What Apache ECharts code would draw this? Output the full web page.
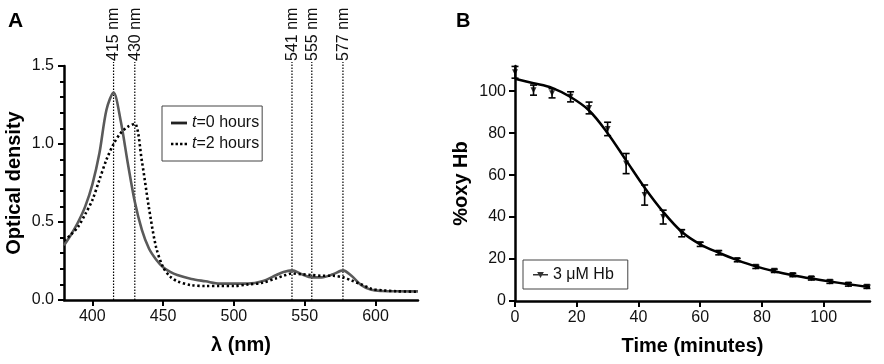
<!DOCTYPE html>
<html>
<head>
<meta charset="utf-8">
<script src="https://cdn.jsdelivr.net/npm/echarts@6/dist/echarts.min.js"></script>
<style>
  html, body { margin: 0; padding: 0; background: #fff; }
  #chart { width: 884px; height: 364px; }
</style>
</head>
<body>
<div id="chart"></div>
<script>
// panel A: absorbance spectra
var wavelength = [380, 385, 390, 395, 400, 405, 410, 415, 420, 425, 430, 435, 440, 445, 450, 455, 460, 470, 480, 490, 500, 510, 520, 530, 535, 541, 548, 555, 562, 570, 577, 583, 590, 597, 605, 615, 630];
var odHour0 = [0.35, 0.42, 0.50, 0.60, 0.74, 0.94, 1.22, 1.33, 1.15, 0.88, 0.63, 0.45, 0.33, 0.26, 0.21, 0.18, 0.16, 0.135, 0.12, 0.105, 0.105, 0.105, 0.12, 0.16, 0.18, 0.19, 0.165, 0.145, 0.145, 0.165, 0.19, 0.155, 0.095, 0.065, 0.058, 0.056, 0.055];
var odHour2 = [0.38, 0.42, 0.47, 0.55, 0.64, 0.77, 0.90, 1.00, 1.07, 1.11, 1.13, 0.89, 0.59, 0.34, 0.21, 0.15, 0.12, 0.095, 0.09, 0.09, 0.09, 0.10, 0.11, 0.14, 0.155, 0.17, 0.165, 0.16, 0.155, 0.155, 0.145, 0.125, 0.10, 0.072, 0.062, 0.056, 0.053];
var peakLines = [415, 430, 541, 555, 577];
var wlTicks = [400, 450, 500, 550, 600];

// panel B: %oxy Hb over time
var timeMin = [0, 6, 12, 18, 24, 30, 36, 42, 48, 54, 60, 66, 72, 78, 84, 90, 96, 102, 108, 114];
var oxyMean = [109, 100.5, 99, 97.3, 92, 82, 65.5, 50.5, 40, 32.3, 27, 23, 19.5, 16.3, 14.4, 12.4, 10.8, 9.2, 7.9, 6.8];
var oxyErr = [2.8, 2.4, 2.2, 2.4, 2.8, 3.2, 4.8, 4.8, 3.3, 1.7, 1, 1, 0.8, 0.8, 0.8, 0.8, 0.8, 0.8, 0.8, 0.8];
var fitTime = [0, 6, 12, 18, 24, 30, 36, 42, 48, 54, 60, 66, 72, 78, 84, 90, 96, 102, 108, 115];
var fitOxy = [105.9, 103.8, 101.6, 97.2, 90.8, 80, 67, 54, 42.5, 33, 27, 23, 19.5, 16.5, 14.2, 12.3, 10.7, 9.3, 8, 6.6];
var timeTicks = [0, 20, 40, 60, 80, 100];
var oxyTicks = [0, 20, 40, 60, 80, 100];

var FONT = '"Liberation Sans", Arial, sans-serif';

function pairs(xs, ys) {
  return xs.map(function (x, i) { return [x, ys[i]]; });
}

// shared axis look: thick black line, outward ticks
function axisStyle(extra) {
  var base = {
    axisLine: { show: true, onZero: false, lineStyle: { color: '#000', width: 2.5 } },
    axisTick: { show: true, inside: false, length: 6, lineStyle: { color: '#000', width: 2 } },
    axisLabel: { color: '#111', fontSize: 16, fontFamily: FONT, margin: 9 },
    splitLine: { show: false },
    nameLocation: 'middle',
    nameTextStyle: { color: '#000', fontSize: 20, fontWeight: 'bold', fontFamily: FONT }
  };
  for (var k in extra) {
    if (typeof extra[k] === 'object' && base[k] && !Array.isArray(extra[k])) {
      base[k] = Object.assign({}, base[k], extra[k]);
    } else {
      base[k] = extra[k];
    }
  }
  return base;
}

// legend icons (solid dash, row of dots, line with marker)
var ICON_SOLID = 'path://M0,5.6H16V8.4H0Z';
var ICON_DOTS = 'path://M0,5.8H2.4V8.2H0Z M4.5,5.8H6.9V8.2H4.5Z M9,5.8H11.4V8.2H9Z M13.5,5.8H15.9V8.2H13.5Z';
var ICON_MARK = 'path://M0,3.2H20V5.4H0Z M5.5,0.8H14.5L10,8.5Z';

var chart = echarts.init(document.getElementById('chart'), null, { renderer: 'canvas' });

var option = {
  backgroundColor: '#fff',
  animation: false,
  title: [
    { text: 'A', left: 3, top: 6, textStyle: { fontSize: 21, fontWeight: 'bold', fontFamily: FONT, color: '#000' } },
    { text: 'B', left: 451, top: 6, textStyle: { fontSize: 20, fontWeight: 'bold', fontFamily: FONT, color: '#000' } }
  ],
  grid: [
    { left: 64, top: 66, width: 354, height: 234, outerBoundsMode: 'none', containLabel: false },
    { left: 515, top: 66, width: 355, height: 235, outerBoundsMode: 'none', containLabel: false }
  ],
  legend: [
    {
      orient: 'vertical',
      left: 162, top: 106,
      padding: [9, 3, 9, 9],
      itemGap: 5,
      itemWidth: 16, itemHeight: 14,
      borderColor: '#444', borderWidth: 1,
      data: [
        { name: 't=0 hours', icon: ICON_SOLID, itemStyle: { color: '#222' } },
        { name: 't=2 hours', icon: ICON_DOTS, itemStyle: { color: '#000' } }
      ],
      formatter: function (n) { return '{i|t}{r|' + n.slice(1) + '}'; },
      textStyle: {
        rich: {
          i: { fontStyle: 'italic', fontSize: 16, fontFamily: FONT, color: '#111' },
          r: { fontSize: 16, fontFamily: FONT, color: '#111' }
        }
      }
    },
    {
      left: 523, top: 260,
      padding: [7, 14, 6, 10],
      itemWidth: 15, itemHeight: 9,
      borderColor: '#444', borderWidth: 1,
      data: [{ name: '3 μM Hb', icon: ICON_MARK, itemStyle: { color: '#000' } }],
      textStyle: { fontSize: 16, fontFamily: FONT, color: '#111' }
    }
  ],
  xAxis: [
    axisStyle({
      gridIndex: 0, type: 'value', min: 380, max: 630,
      name: 'λ (nm)', nameGap: 35,
      axisTick: { show: true, customValues: wlTicks, length: 6, lineStyle: { color: '#000', width: 2 } },
      axisLabel: { customValues: wlTicks, color: '#111', fontSize: 16, fontFamily: FONT, margin: 9 }
    }),
    axisStyle({
      gridIndex: 1, type: 'value', min: 0, max: 115,
      name: 'Time (minutes)', nameGap: 35,
      axisTick: { show: true, customValues: timeTicks, length: 6, lineStyle: { color: '#000', width: 2 } },
      axisLabel: { customValues: timeTicks, color: '#111', fontSize: 16, fontFamily: FONT, margin: 9 }
    })
  ],
  yAxis: [
    axisStyle({
      gridIndex: 0, type: 'value', min: 0, max: 1.5, interval: 0.5,
      name: 'Optical density', nameGap: 40,
      minorTick: { show: true, splitNumber: 5, length: 4, lineStyle: { color: '#000', width: 2 } },
      axisLabel: { color: '#111', fontSize: 16, fontFamily: FONT, margin: 10, formatter: function (v) { return v.toFixed(1); } }
    }),
    axisStyle({
      gridIndex: 1, type: 'value', min: 0, max: 112,
      name: '%oxy Hb', nameGap: 44,
      axisTick: { show: true, customValues: oxyTicks, length: 6, lineStyle: { color: '#000', width: 2 } },
      axisLabel: { customValues: oxyTicks, color: '#111', fontSize: 16, fontFamily: FONT, margin: 9 }
    })
  ],
  series: [
    {
      name: 't=0 hours', type: 'line', xAxisIndex: 0, yAxisIndex: 0,
      data: pairs(wavelength, odHour0), smooth: 0.3, symbol: 'none',
      lineStyle: { color: '#5a5a5a', width: 2.6 }, itemStyle: { color: '#222' }
    },
    {
      name: 't=2 hours', type: 'line', xAxisIndex: 0, yAxisIndex: 0,
      data: pairs(wavelength, odHour2), smooth: 0.3, symbol: 'none',
      lineStyle: { color: '#000', width: 2.6, type: [2.3, 2.6] }, itemStyle: { color: '#000' }
    },
    {
      // dotted reference lines with rotated wavelength labels
      type: 'custom', xAxisIndex: 0, yAxisIndex: 0, clip: false, silent: true,
      data: peakLines.map(function (v) { return [v]; }),
      renderItem: function (params, api) {
        var x = api.value(0);
        var p0 = api.coord([x, 0]);
        var p1 = api.coord([x, 1.5]);
        return {
          type: 'group',
          children: [
            { type: 'line', shape: { x1: p0[0], y1: p0[1], x2: p0[0], y2: p1[1] - 4 },
              style: { stroke: '#000', lineWidth: 1.2, lineDash: [1.5, 1.5] } },
            { type: 'text', x: p0[0] + 0.5, y: p1[1] - 5, rotation: Math.PI / 2,
              style: { text: x + ' nm', fontSize: 16, fontFamily: FONT, fill: '#111', align: 'left', verticalAlign: 'middle' } }
          ]
        };
      }
    },
    {
      name: 'fit', type: 'line', xAxisIndex: 1, yAxisIndex: 1,
      data: pairs(fitTime, fitOxy), smooth: 0.35, symbol: 'none',
      lineStyle: { color: '#000', width: 2.5 }
    },
    {
      // error bars
      type: 'custom', xAxisIndex: 1, yAxisIndex: 1, clip: false, silent: true,
      data: timeMin.map(function (t, i) { return [t, oxyMean[i], oxyErr[i]]; }),
      renderItem: function (params, api) {
        var t = api.value(0), m = api.value(1), e = api.value(2);
        var hi = api.coord([t, m + e]);
        var lo = api.coord([t, m - e]);
        var st = { stroke: '#000', lineWidth: 1.6 };
        return {
          type: 'group',
          children: [
            { type: 'line', shape: { x1: hi[0], y1: hi[1], x2: lo[0], y2: lo[1] }, style: st },
            { type: 'line', shape: { x1: hi[0] - 3.5, y1: hi[1], x2: hi[0] + 3.5, y2: hi[1] }, style: st },
            { type: 'line', shape: { x1: lo[0] - 3.5, y1: lo[1], x2: lo[0] + 3.5, y2: lo[1] }, style: st }
          ]
        };
      }
    },
    {
      name: '3 μM Hb', type: 'scatter', xAxisIndex: 1, yAxisIndex: 1,
      data: pairs(timeMin, oxyMean), clip: false,
      symbol: 'triangle', symbolRotate: 180, symbolSize: 6,
      itemStyle: { color: '#000' }
    }
  ]
};

chart.setOption(option);
</script>
</body>
</html>
